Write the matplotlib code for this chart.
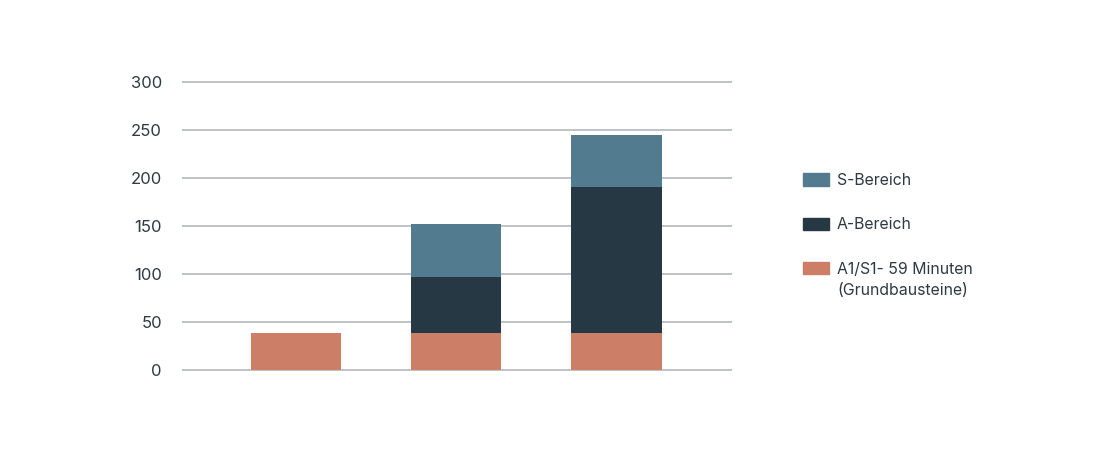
import numpy as np
from matplotlib import pyplot as plt
from matplotlib.patches import Patch

plt.rcParams['font.family'] = ['Inter', 'DejaVu Sans']

categories = ['1', '2', '3']
grund = [38, 38, 38]
a_bereich = [0, 59, 152]
s_bereich = [0, 55, 55]
yticks = [0, 50, 100, 150, 200, 250, 300]

col_grund = '#cc7e67'
col_a = '#263843'
col_s = '#537b90'
text_col = '#2d3a42'

fig = plt.figure(figsize=(11, 4.5), dpi=100)
ax = fig.add_axes([182 / 1100, 1 - 371.6 / 450, 550 / 1100, 291.8 / 450])

x = np.arange(len(categories))
w = 0.5625
ax.bar(x, grund, w, color=col_grund, zorder=3)
ax.bar(x, a_bereich, w, bottom=grund, color=col_a, zorder=3)
bottom2 = np.array(grund) + np.array(a_bereich)
ax.bar(x, s_bereich, w, bottom=bottom2, color=col_s, zorder=3)

ax.set_xlim(-0.71, 2.72)
ax.set_ylim(-2, 302)
ax.set_yticks(yticks)
ax.set_xticks([])
ax.yaxis.grid(True, color='#bfc3c6', linewidth=1.4, zorder=0)
ax.tick_params(axis='y', length=0, pad=14.5, labelsize=12, labelcolor=text_col)
for s in ax.spines.values():
    s.set_visible(False)

handles = [Patch(color=col_s), Patch(color=col_a), Patch(color=col_grund)]
labels = ['S-Bereich', 'A-Bereich', 'A1/S1- 59 Minuten']
leg = fig.legend(handles, labels, loc='upper left', bbox_to_anchor=(803 / 1100, 1 - 173 / 450),
                 frameon=False, borderpad=0, borderaxespad=0, fontsize=11.4,
                 handlelength=1.65, handleheight=0.82, handletextpad=0.5, labelspacing=1.85)
for t in leg.get_texts():
    t.set_color(text_col)

# second line of the last legend label, placed under the first line
fig.canvas.draw()
bb = leg.get_texts()[2].get_window_extent().transformed(fig.transFigure.inverted())
fig.text(bb.x0, bb.y0 - 6 / 450, '(Grundbausteine)', va='top', ha='left',
         fontsize=11.4, color=text_col)

fig.savefig('out.png', dpi=100)
